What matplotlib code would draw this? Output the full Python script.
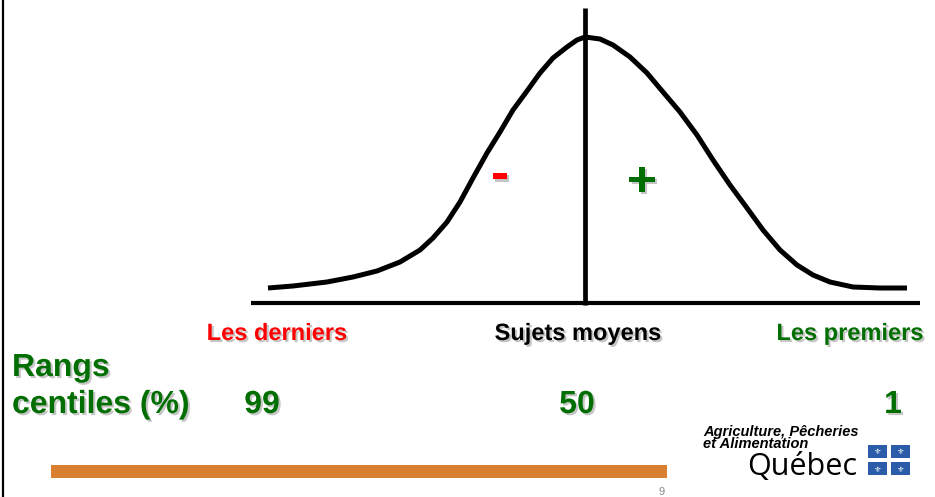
import matplotlib.pyplot as plt
import matplotlib.patheffects as pe
from matplotlib.patches import Rectangle

curve_x = [268, 293, 327, 353, 377, 400, 420, 433, 447, 460, 473, 487, 500,
           513, 527, 540, 553, 567, 577, 585,
           600, 613, 630, 647, 663, 680, 697, 713, 730, 747, 763, 780,
           797, 813, 830, 853, 880, 907]
curve_y = [288, 286, 282, 277, 271, 262, 250, 238, 222, 202, 178, 153, 132,
           110, 91, 73, 58, 47, 40, 37,
           39, 45, 57, 73, 92, 112, 135, 160, 185, 208, 230, 250,
           265, 275, 282, 287, 288, 288]

# Group labels under the axis, and percentile ranks
group_labels = ["Les derniers", "Sujets moyens", "Les premiers"]
group_colors = ["#FF0000", "#000000", "#006E00"]
group_x = [277, 578, 850]
rank_labels = ["99", "50", "1"]
rank_x = [262, 577, 893]

GREEN = "#006E00"
FONT = "Liberation Sans"
shadow = [pe.withSimplePatchShadow(offset=(1.5, -1.5), shadow_rgbFace="#808080", alpha=0.45)]

fig = plt.figure(figsize=(9.35, 4.97), dpi=100)
ax = fig.add_axes([0, 0, 1, 1])
ax.set_xlim(0, 935)
ax.set_ylim(497, 0)
ax.axis("off")

# left border of the slide
ax.plot([3, 3], [0, 497], color="black", lw=1.6, solid_capstyle="butt")

# axis, mean line and curve
ax.plot([251, 920], [303, 303], color="black", lw=3.0, solid_capstyle="butt")
ax.plot([585, 585], [8, 305], color="black", lw=3.4, solid_capstyle="butt")
ax.plot(curve_x, curve_y, color="black", lw=3.6, solid_capstyle="butt", solid_joinstyle="round")

ax.text(500, 190, "-", color="#FF0000", fontsize=38, fontweight="bold", family=FONT,
        ha="center", va="baseline", path_effects=shadow)
ax.text(642, 196, "+", color=GREEN, fontsize=36, fontweight="bold", family=FONT,
        ha="center", va="baseline", path_effects=shadow)

for lab, col, x in zip(group_labels, group_colors, group_x):
    ax.text(x, 340, lab, color=col, fontsize=17, fontweight="bold", family=FONT,
            ha="center", va="baseline", path_effects=shadow)

ax.text(12, 376, "Rangs", color=GREEN, fontsize=23, fontweight="bold", family=FONT,
        ha="left", va="baseline", path_effects=shadow)
ax.text(12, 413, "centiles (%)", color=GREEN, fontsize=23, fontweight="bold", family=FONT,
        ha="left", va="baseline", path_effects=shadow)
for lab, x in zip(rank_labels, rank_x):
    ax.text(x, 413, lab, color=GREEN, fontsize=23, fontweight="bold", family=FONT,
            ha="center", va="baseline", path_effects=shadow)

# orange footer bar and page number
ax.add_patch(Rectangle((51, 465), 616, 13, color="#D98030", lw=0))
ax.text(662, 495, "9", color="#888888", fontsize=8, family=FONT, ha="center", va="baseline")

# Québec logo
ax.text(703, 425, "Agriculture, Pêcheries\net Alimentation", fontsize=10.5, fontweight="bold",
        style="italic", family=FONT, ha="left", va="top", linespacing=0.8)
ax.text(857, 475, "Québec", fontsize=22, family="Open Sans", ha="right", va="baseline")
for fx in (868, 891):
    for fy in (445, 462):
        ax.add_patch(Rectangle((fx, fy), 19, 13, color="#2A5CAA", lw=0))
        ax.text(fx + 9.5, fy + 7, "⚜", color="white", fontsize=6, family="DejaVu Sans",
                ha="center", va="center")

fig.savefig("out.png", dpi=100)
